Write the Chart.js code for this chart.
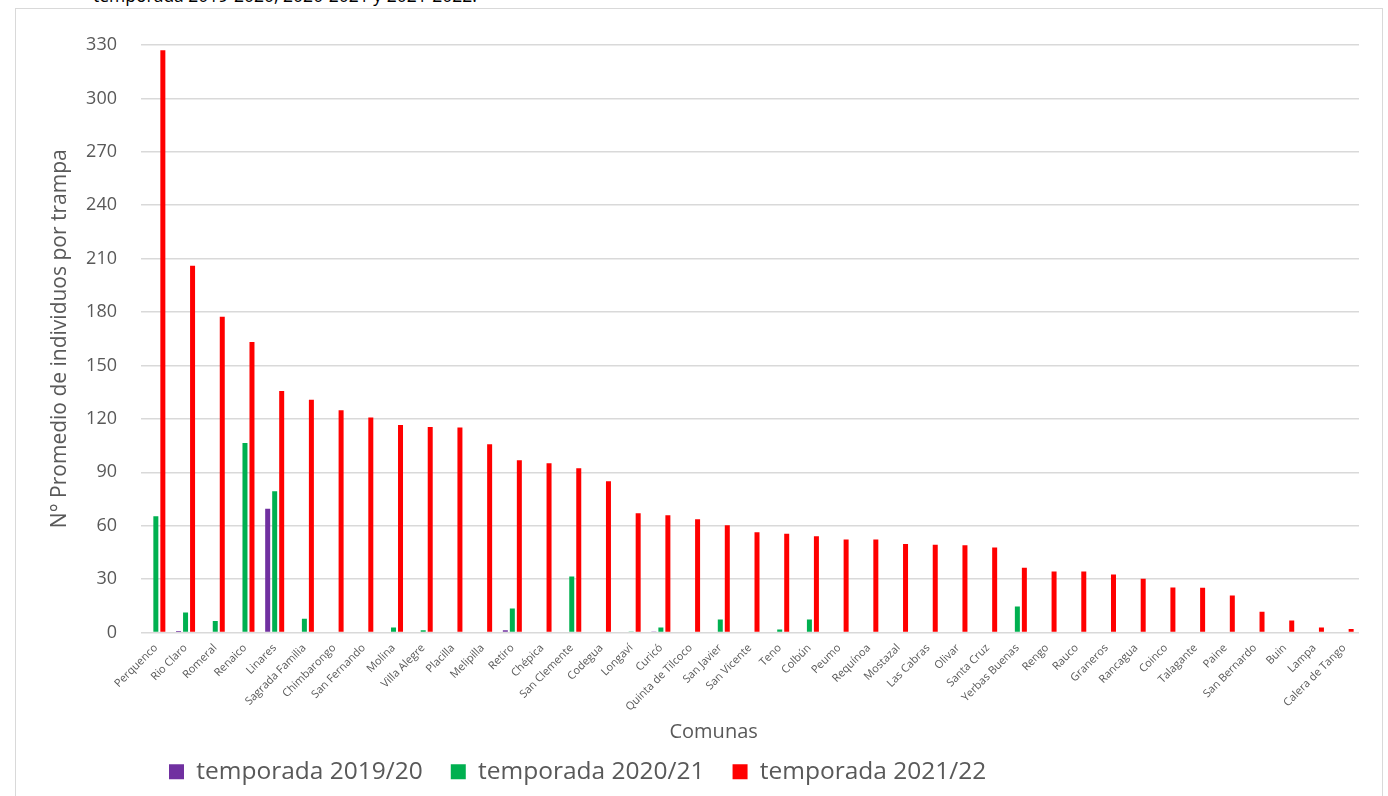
<!DOCTYPE html>
<html>
<head>
<meta charset="utf-8">
<script src="https://cdn.jsdelivr.net/npm/chart.js@4"></script>
<style>
    body { margin: 0; width: 1388px; height: 796px; overflow: hidden; background: #fff; position: relative; font-family: 'Open Sans', sans-serif; }
    #caption { position: absolute; left: 93px; top: -13px; font-size: 17.5px; line-height: 17px; color: #000; white-space: nowrap; }
    #wrap { position: absolute; left: 15px; top: 8px; width: 1366px; height: 800px; border: 1px solid #d9d9d9; }
    #graphChart { position: absolute; left: 0; top: 0; }
</style>
</head>
<body>
<div id="caption">temporada 2019-2020, 2020-2021 y 2021-2022.</div>
<div id="wrap"><canvas id="graphChart" width="1366" height="787"></canvas></div>
<script>
const comunas = ['Perquenco', 'Rio Claro', 'Romeral', 'Renaico', 'Linares', 'Sagrada Familia', 'Chimbarongo',
    'San Fernando', 'Molina', 'Villa Alegre', 'Placilla', 'Melipilla', 'Retiro', 'Chépica', 'San Clemente',
    'Codegua', 'Longaví', 'Curicó', 'Quinta de Tilcoco', 'San Javier', 'San Vicente', 'Teno', 'Colbún',
    'Peumo', 'Requínoa', 'Mostazal', 'Las Cabras', 'Olivar', 'Santa Cruz', 'Yerbas Buenas', 'Rengo', 'Rauco',
    'Graneros', 'Rancagua', 'Coinco', 'Talagante', 'Paine', 'San Bernardo', 'Buin', 'Lampa', 'Calera de Tango']

const temporada1920 = [0, 0.8, 0, 0, 69.5, 0, 0, 0, 0, 0, 0, 0, 1.3, 0, 0, 0, 0, 0.6, 0, 0, 0,
    0, 0, 0, 0, 0, 0, 0, 0, 0, 0, 0, 0, 0, 0, 0, 0, 0, 0, 0, 0]
const temporada2021 = [65.3, 11.3, 6.4, 106.4, 79.3, 7.7, 0, 0, 2.8, 1.3, 0, 0, 13.5, 0, 31.5, 0, 0.3, 2.8, 0, 7.3, 0,
    1.7, 7.3, 0, 0, 0, 0, 0, 0, 14.6, 0, 0, 0, 0, 0, 0, 0, 0, 0, 0, 0]
const temporada2122 = [327, 206, 177.4, 163.2, 135.6, 130.7, 124.8, 120.8, 116.5, 115.4, 115.2, 105.8, 96.8, 95.1,
    92.3, 85.0, 67.0, 65.8, 63.6, 60.2, 56.3, 55.5, 54.0, 52.3, 52.2, 49.7, 49.3, 49.0, 47.8, 36.4, 34.2, 34.2,
    32.6, 30.2, 25.3, 25.1, 20.8, 11.6, 6.8, 2.8, 1.9]

const yTicks = [0, 30, 60, 90, 120, 150, 180, 210, 240, 270, 300, 330]

const grey = '#595959'

const graphConfig = {
    type: 'bar',
    data: {
        labels: comunas,
        datasets: [
            { label: 'temporada 2019/20', data: temporada1920, backgroundColor: '#7030A0' },
            { label: 'temporada 2020/21', data: temporada2021, backgroundColor: '#00B050' },
            { label: 'temporada 2021/22', data: temporada2122, backgroundColor: '#FF0000' }
        ]
    },
    options: {
        responsive: false,
        animation: false,
        categoryPercentage: 0.707,
        barPercentage: 0.714,
        layout: {
            padding: { top: 36, right: 23, bottom: 2, left: 0 }
        },
        plugins: {
            legend: {
                position: 'bottom',
                align: 'start',
                fullSize: false,
                labels: {
                    boxWidth: 15,
                    boxHeight: 15,
                    padding: 28,
                    color: grey,
                    font: { family: 'Open Sans', size: 24.5 }
                }
            },
            tooltip: { enabled: false }
        },
        scales: {
            x: {
                grid: { display: false, drawTicks: false },
                border: { display: false },
                ticks: {
                    autoSkip: false,
                    minRotation: 45,
                    maxRotation: 45,
                    padding: 9,
                    color: grey,
                    font: { family: 'Open Sans', size: 11 }
                },
                title: {
                    display: true,
                    text: 'Comunas              ',
                    color: grey,
                    padding: { top: 0, bottom: -13 },
                    font: { family: 'Open Sans', size: 20 }
                },
                afterFit: (axis) => { axis.height = 99 }
            },
            y: {
                min: 0,
                max: 330,
                afterBuildTicks: (axis) => { axis.ticks = yTicks.map(v => ({ value: v })) },
                grid: { color: '#d9d9d9', lineWidth: 1.5, drawTicks: false },
                border: { display: false },
                ticks: {
                    padding: 24,
                    color: grey,
                    font: { family: 'Open Sans', size: 18 }
                },
                title: {
                    display: true,
                    text: 'N° Promedio de individuos por trampa',
                    color: grey,
                    padding: { top: 31, bottom: 0 },
                    font: { family: 'Open Sans', size: 21 }
                },
                afterFit: (axis) => { axis.width = 125 }
            }
        }
    }
}

const chart = new Chart(document.getElementById('graphChart'), graphConfig)
</script>
</body>
</html>
